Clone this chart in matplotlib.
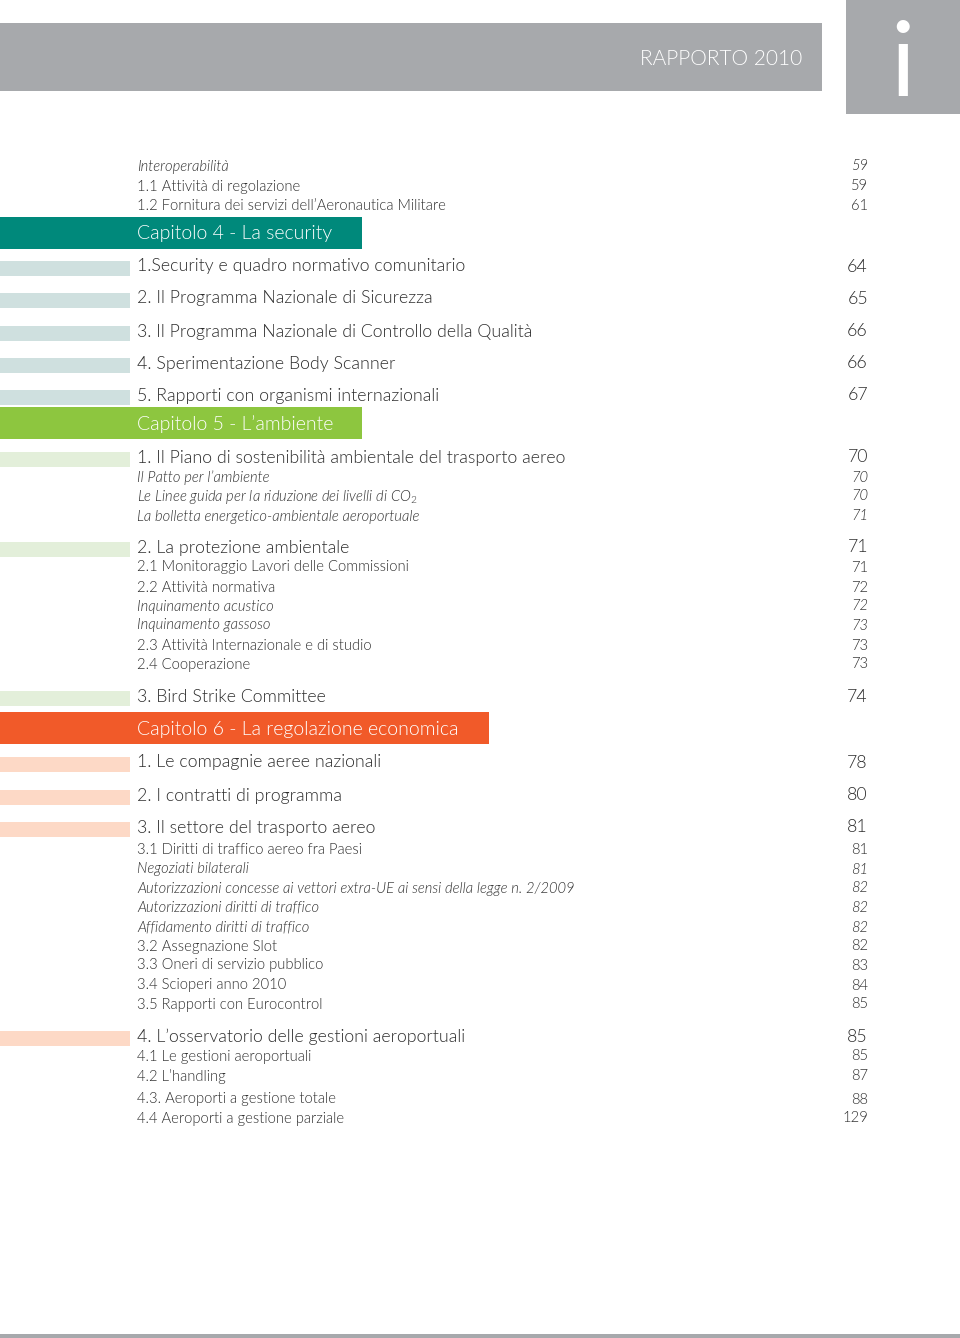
import matplotlib
matplotlib.use("Agg")
from matplotlib import pyplot as plt

plt.rcParams['font.family'] = ['Lato', 'DejaVu Sans']
plt.rcParams['font.weight'] = 300
plt.rcParams['mathtext.fontset'] = 'custom'
plt.rcParams['mathtext.rm'] = 'Lato'
plt.rcParams['mathtext.it'] = 'Lato:italic'

# table of contents: label, page, kind
# kinds: s = small, i = small italic, L = large section, C = chapter
labels = [
    "Interoperabilità",
    "1.1 Attività di regolazione",
    "1.2 Fornitura dei servizi dell\u2019Aeronautica Militare",
    "Capitolo 4 - La security",
    "1.Security e quadro normativo comunitario",
    "2. Il Programma Nazionale di Sicurezza",
    "3. Il Programma Nazionale di Controllo della Qualità",
    "4. Sperimentazione Body Scanner",
    "5. Rapporti con organismi internazionali",
    "Capitolo 5 - L\u2019ambiente",
    "1. Il Piano di sostenibilità ambientale del trasporto aereo",
    "Il Patto per l\u2019ambiente",
    "Le Linee guida per la riduzione dei livelli di CO$_{2}$",
    "La bolletta energetico-ambientale aeroportuale",
    "2. La protezione ambientale",
    "2.1 Monitoraggio Lavori delle Commissioni",
    "2.2 Attività normativa",
    "Inquinamento acustico",
    "Inquinamento gassoso",
    "2.3 Attività Internazionale e di studio",
    "2.4 Cooperazione",
    "3. Bird Strike Committee",
    "Capitolo 6 - La regolazione economica",
    "1. Le compagnie aeree nazionali",
    "2. I contratti di programma",
    "3. Il settore del trasporto aereo",
    "3.1 Diritti di traffico aereo fra Paesi",
    "Negoziati bilaterali",
    "Autorizzazioni concesse ai vettori extra-UE ai sensi della legge n. 2/2009",
    "Autorizzazioni diritti di traffico",
    "Affidamento diritti di traffico",
    "3.2 Assegnazione Slot",
    "3.3 Oneri di servizio pubblico",
    "3.4 Scioperi anno 2010",
    "3.5 Rapporti con Eurocontrol",
    "4. L\u2019osservatorio delle gestioni aeroportuali",
    "4.1 Le gestioni aeroportuali",
    "4.2 L\u2019handling",
    "4.3. Aeroporti a gestione totale",
    "4.4 Aeroporti a gestione parziale",
]
pages = ["59", "59", "61", "", "64", "65", "66", "66", "67", "",
         "70", "70", "70", "71", "71", "71", "72", "72", "73", "73", "73", "74", "",
         "78", "80", "81", "81", "81", "82", "82", "82", "82", "83", "84", "85",
         "85", "85", "87", "88", "129"]
kinds = ["i", "s", "s", "C", "L", "L", "L", "L", "L", "C",
         "L", "i", "i", "i", "L", "s", "s", "i", "i", "s", "s", "L", "C",
         "L", "L", "L", "s", "i", "i", "i", "i", "s", "s", "s", "s",
         "L", "s", "s", "s", "s"]
chapter = [3, 3, 3, 4, 4, 4, 4, 4, 4, 5,
           5, 5, 5, 5, 5, 5, 5, 5, 5, 5, 5, 5, 6,
           6, 6, 6, 6, 6, 6, 6, 6, 6, 6, 6, 6,
           6, 6, 6, 6, 6]

# layout (pixel rows of the page)
row_y = [165, 185, 204, 233, 265, 297, 330, 362, 394, 423,
         456, 476, 495, 515, 546, 566, 586, 605, 624, 644, 663, 695, 728,
         761, 794, 826, 848, 868, 887, 906, 926, 945, 964, 984, 1003,
         1035, 1055, 1075, 1098, 1117]

dark = {4: "#00897b", 5: "#8dc63f", 6: "#f15a29"}
light = {3: "#cfe0df", 4: "#cfe0df", 5: "#e3efda", 6: "#fdd9c6"}
chap_w = {4: 362, 5: 362, 6: 489}
txt = "#2e2e2e"

fig = plt.figure(figsize=(9.6, 13.38), dpi=100)
ax = fig.add_axes([0, 0, 1, 1])
ax.set_xlim(0, 960)
ax.set_ylim(1338, 0)
ax.axis("off")

# header
ax.barh(57, 822, height=68, left=0, color="#a7a9ac")
ax.barh(57, 114, height=114, left=846, color="#a7a9ac")
ax.barh(1336, 960, height=4, left=0, color="#a7a9ac")
ax.text(802, 59, "RAPPORTO 2010", color="white", fontsize=15,
        ha="right", va="center")
ax.text(903, 96, "i", color="white", fontsize=74, fontweight="normal",
        ha="center", va="baseline")

for lab, pg, k, ch, y in zip(labels, pages, kinds, chapter, row_y):
    if k == "C":
        ax.barh(y, chap_w[ch], height=32, left=0, color=dark[ch])
        ax.text(137, y + 1, lab, color="white", fontsize=14,
                ha="left", va="center")
        continue
    if k == "L":
        ax.barh(y + 3, 130, height=15, left=0, color=light[ch])
        size, style = 12.75, "normal"
    elif k == "i":
        size, style = 10.6, "italic"
    else:
        size, style = 10.6, "normal"
    ax.text(137, y + 1.5, lab, color=txt, fontsize=size, fontstyle=style,
            ha="left", va="center")
    ax.text(868, y + 1.5, pg, color=txt, fontsize=size, fontstyle=style,
            ha="right", va="center")

fig.savefig("out.png", dpi=100)
